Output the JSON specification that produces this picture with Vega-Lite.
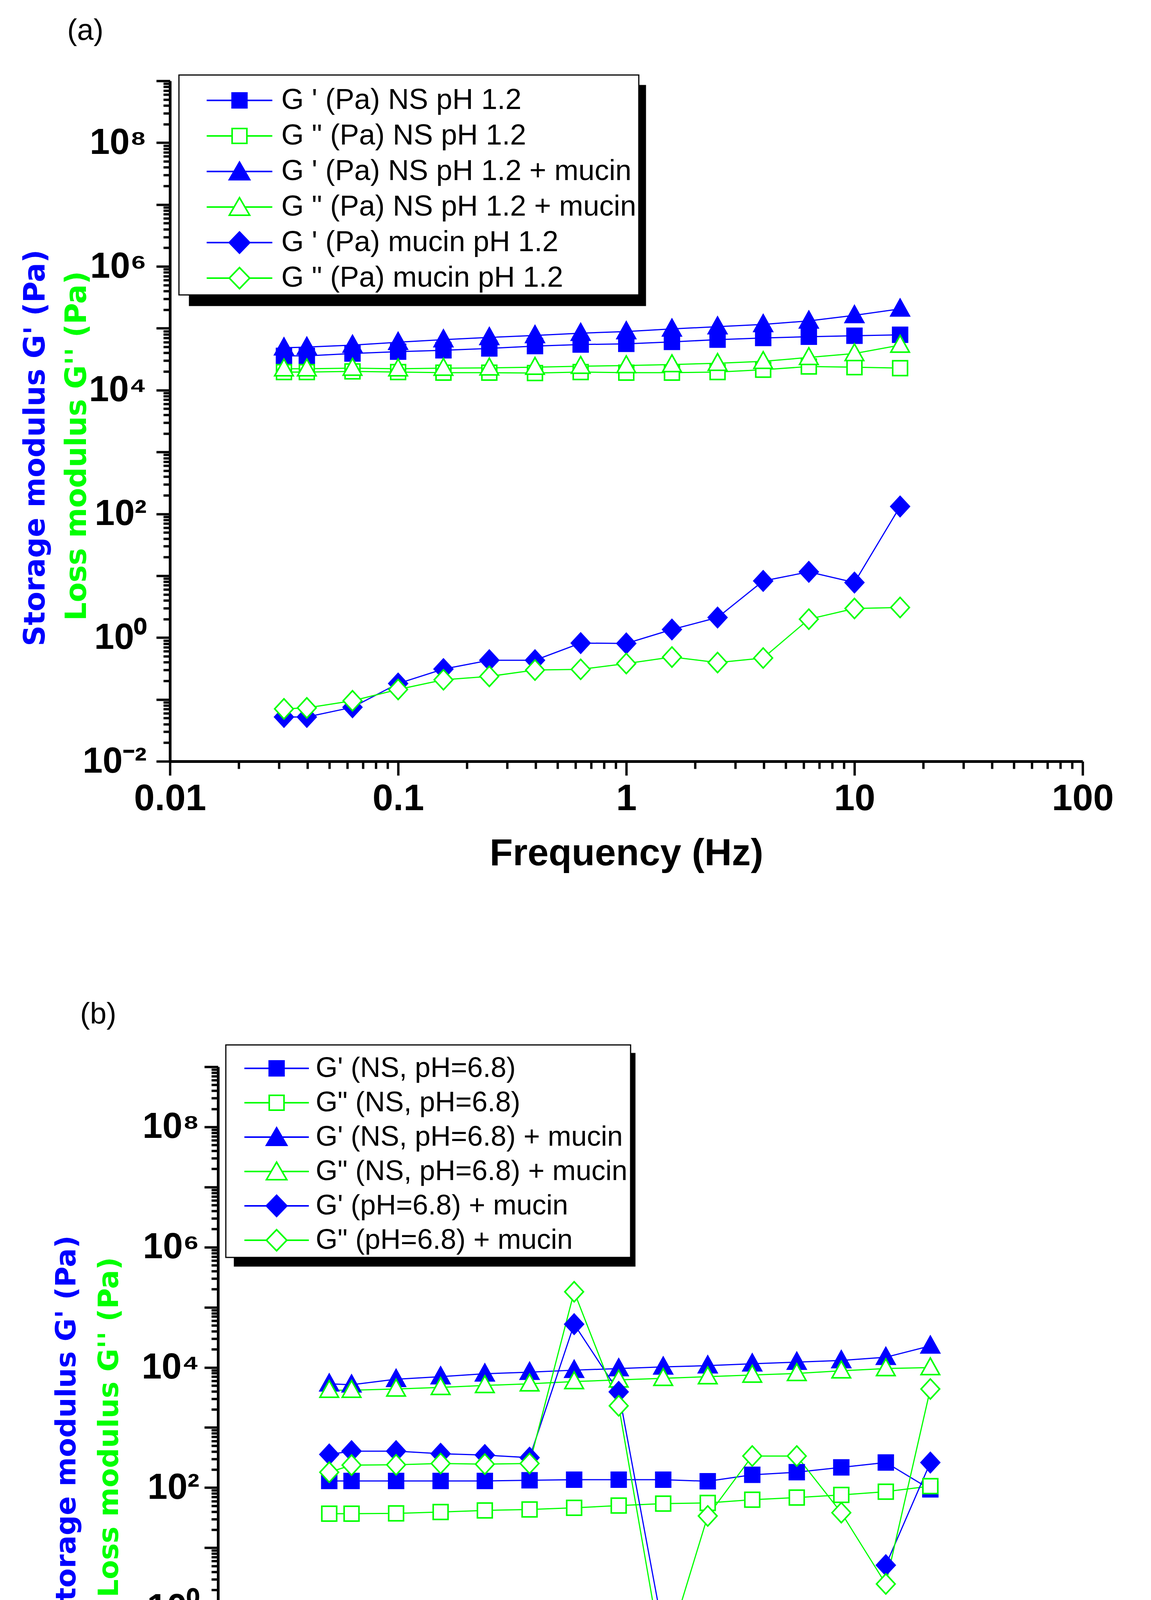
{
  "$schema": "https://vega.github.io/schema/vega-lite/v6.json",
  "padding": {"left": 54, "top": 41, "right": 5, "bottom": 5},
  "background": "white",
  "columns": 1,
  "spacing": 325,
  "datasets": {
    "a": [
      {"series": "G ' (Pa) NS pH 1.2", "freq": 0.0316, "value": 35890},
      {"series": "G ' (Pa) NS pH 1.2", "freq": 0.0398, "value": 35890},
      {"series": "G ' (Pa) NS pH 1.2", "freq": 0.0631, "value": 39080},
      {"series": "G ' (Pa) NS pH 1.2", "freq": 0.1, "value": 41980},
      {"series": "G ' (Pa) NS pH 1.2", "freq": 0.158, "value": 44060},
      {"series": "G ' (Pa) NS pH 1.2", "freq": 0.251, "value": 47320},
      {"series": "G ' (Pa) NS pH 1.2", "freq": 0.398, "value": 51520},
      {"series": "G ' (Pa) NS pH 1.2", "freq": 0.631, "value": 54700},
      {"series": "G ' (Pa) NS pH 1.2", "freq": 1, "value": 56100},
      {"series": "G ' (Pa) NS pH 1.2", "freq": 1.585, "value": 60260},
      {"series": "G ' (Pa) NS pH 1.2", "freq": 2.512, "value": 65610},
      {"series": "G ' (Pa) NS pH 1.2", "freq": 3.981, "value": 69660},
      {"series": "G ' (Pa) NS pH 1.2", "freq": 6.31, "value": 73110},
      {"series": "G ' (Pa) NS pH 1.2", "freq": 10, "value": 75860},
      {"series": "G ' (Pa) NS pH 1.2", "freq": 15.85, "value": 78520},
      {"series": "G \" (Pa) NS pH 1.2", "freq": 0.0316, "value": 19630},
      {"series": "G \" (Pa) NS pH 1.2", "freq": 0.0398, "value": 19630},
      {"series": "G \" (Pa) NS pH 1.2", "freq": 0.0631, "value": 20140},
      {"series": "G \" (Pa) NS pH 1.2", "freq": 0.1, "value": 19630},
      {"series": "G \" (Pa) NS pH 1.2", "freq": 0.158, "value": 19190},
      {"series": "G \" (Pa) NS pH 1.2", "freq": 0.251, "value": 19190},
      {"series": "G \" (Pa) NS pH 1.2", "freq": 0.398, "value": 18920},
      {"series": "G \" (Pa) NS pH 1.2", "freq": 0.631, "value": 19630},
      {"series": "G \" (Pa) NS pH 1.2", "freq": 1, "value": 19190},
      {"series": "G \" (Pa) NS pH 1.2", "freq": 1.585, "value": 19190},
      {"series": "G \" (Pa) NS pH 1.2", "freq": 2.512, "value": 19630},
      {"series": "G \" (Pa) NS pH 1.2", "freq": 3.981, "value": 21380},
      {"series": "G \" (Pa) NS pH 1.2", "freq": 6.31, "value": 24100},
      {"series": "G \" (Pa) NS pH 1.2", "freq": 10, "value": 23550},
      {"series": "G \" (Pa) NS pH 1.2", "freq": 15.85, "value": 22700},
      {"series": "G ' (Pa) NS pH 1.2 + mucin", "freq": 0.0316, "value": 48530},
      {"series": "G ' (Pa) NS pH 1.2 + mucin", "freq": 0.0398, "value": 49660},
      {"series": "G ' (Pa) NS pH 1.2 + mucin", "freq": 0.0631, "value": 53460},
      {"series": "G ' (Pa) NS pH 1.2 + mucin", "freq": 0.1, "value": 59570},
      {"series": "G ' (Pa) NS pH 1.2 + mucin", "freq": 0.158, "value": 65610},
      {"series": "G ' (Pa) NS pH 1.2 + mucin", "freq": 0.251, "value": 71290},
      {"series": "G ' (Pa) NS pH 1.2 + mucin", "freq": 0.398, "value": 76740},
      {"series": "G ' (Pa) NS pH 1.2 + mucin", "freq": 0.631, "value": 83370},
      {"series": "G ' (Pa) NS pH 1.2 + mucin", "freq": 1, "value": 88720},
      {"series": "G ' (Pa) NS pH 1.2 + mucin", "freq": 1.585, "value": 97720},
      {"series": "G ' (Pa) NS pH 1.2 + mucin", "freq": 2.512, "value": 106200},
      {"series": "G ' (Pa) NS pH 1.2 + mucin", "freq": 3.981, "value": 115600},
      {"series": "G ' (Pa) NS pH 1.2 + mucin", "freq": 6.31, "value": 131800},
      {"series": "G ' (Pa) NS pH 1.2 + mucin", "freq": 10, "value": 161800},
      {"series": "G ' (Pa) NS pH 1.2 + mucin", "freq": 15.85, "value": 206100},
      {"series": "G \" (Pa) NS pH 1.2 + mucin", "freq": 0.0316, "value": 22180},
      {"series": "G \" (Pa) NS pH 1.2 + mucin", "freq": 0.0398, "value": 22180},
      {"series": "G \" (Pa) NS pH 1.2 + mucin", "freq": 0.0631, "value": 22700},
      {"series": "G \" (Pa) NS pH 1.2 + mucin", "freq": 0.1, "value": 22180},
      {"series": "G \" (Pa) NS pH 1.2 + mucin", "freq": 0.158, "value": 22700},
      {"series": "G \" (Pa) NS pH 1.2 + mucin", "freq": 0.251, "value": 22960},
      {"series": "G \" (Pa) NS pH 1.2 + mucin", "freq": 0.398, "value": 23550},
      {"series": "G \" (Pa) NS pH 1.2 + mucin", "freq": 0.631, "value": 24380},
      {"series": "G \" (Pa) NS pH 1.2 + mucin", "freq": 1, "value": 25000},
      {"series": "G \" (Pa) NS pH 1.2 + mucin", "freq": 1.585, "value": 25940},
      {"series": "G \" (Pa) NS pH 1.2 + mucin", "freq": 2.512, "value": 27230},
      {"series": "G \" (Pa) NS pH 1.2 + mucin", "freq": 3.981, "value": 29240},
      {"series": "G \" (Pa) NS pH 1.2 + mucin", "freq": 6.31, "value": 33810},
      {"series": "G \" (Pa) NS pH 1.2 + mucin", "freq": 10, "value": 39080},
      {"series": "G \" (Pa) NS pH 1.2 + mucin", "freq": 15.85, "value": 53460},
      {"series": "G ' (Pa) mucin pH 1.2", "freq": 0.0316, "value": 0.0521},
      {"series": "G ' (Pa) mucin pH 1.2", "freq": 0.0398, "value": 0.0521},
      {"series": "G ' (Pa) mucin pH 1.2", "freq": 0.0631, "value": 0.0748},
      {"series": "G ' (Pa) mucin pH 1.2", "freq": 0.1, "value": 0.181},
      {"series": "G ' (Pa) mucin pH 1.2", "freq": 0.158, "value": 0.31},
      {"series": "G ' (Pa) mucin pH 1.2", "freq": 0.251, "value": 0.431},
      {"series": "G ' (Pa) mucin pH 1.2", "freq": 0.398, "value": 0.431},
      {"series": "G ' (Pa) mucin pH 1.2", "freq": 0.631, "value": 0.815},
      {"series": "G ' (Pa) mucin pH 1.2", "freq": 1, "value": 0.805},
      {"series": "G ' (Pa) mucin pH 1.2", "freq": 1.585, "value": 1.352},
      {"series": "G ' (Pa) mucin pH 1.2", "freq": 2.512, "value": 2.113},
      {"series": "G ' (Pa) mucin pH 1.2", "freq": 3.981, "value": 8.241},
      {"series": "G ' (Pa) mucin pH 1.2", "freq": 6.31, "value": 11.56},
      {"series": "G ' (Pa) mucin pH 1.2", "freq": 10, "value": 7.762},
      {"series": "G ' (Pa) mucin pH 1.2", "freq": 15.85, "value": 131.8},
      {"series": "G \" (Pa) mucin pH 1.2", "freq": 0.0316, "value": 0.0705},
      {"series": "G \" (Pa) mucin pH 1.2", "freq": 0.0398, "value": 0.0731},
      {"series": "G \" (Pa) mucin pH 1.2", "freq": 0.0631, "value": 0.0953},
      {"series": "G \" (Pa) mucin pH 1.2", "freq": 0.1, "value": 0.145},
      {"series": "G \" (Pa) mucin pH 1.2", "freq": 0.158, "value": 0.208},
      {"series": "G \" (Pa) mucin pH 1.2", "freq": 0.251, "value": 0.236},
      {"series": "G \" (Pa) mucin pH 1.2", "freq": 0.398, "value": 0.299},
      {"series": "G \" (Pa) mucin pH 1.2", "freq": 0.631, "value": 0.307},
      {"series": "G \" (Pa) mucin pH 1.2", "freq": 1, "value": 0.381},
      {"series": "G \" (Pa) mucin pH 1.2", "freq": 1.585, "value": 0.485},
      {"series": "G \" (Pa) mucin pH 1.2", "freq": 2.512, "value": 0.395},
      {"series": "G \" (Pa) mucin pH 1.2", "freq": 3.981, "value": 0.468},
      {"series": "G \" (Pa) mucin pH 1.2", "freq": 6.31, "value": 1.986},
      {"series": "G \" (Pa) mucin pH 1.2", "freq": 10, "value": 2.958},
      {"series": "G \" (Pa) mucin pH 1.2", "freq": 15.85, "value": 3.069}
    ],
    "b": [
      {"series": "G' (NS, pH=6.8)", "freq": 0.0316, "value": 129.1},
      {"series": "G' (NS, pH=6.8)", "freq": 0.0398, "value": 129.1},
      {"series": "G' (NS, pH=6.8)", "freq": 0.0631, "value": 129.1},
      {"series": "G' (NS, pH=6.8)", "freq": 0.1, "value": 129.1},
      {"series": "G' (NS, pH=6.8)", "freq": 0.158, "value": 129.1},
      {"series": "G' (NS, pH=6.8)", "freq": 0.251, "value": 132.4},
      {"series": "G' (NS, pH=6.8)", "freq": 0.398, "value": 135.8},
      {"series": "G' (NS, pH=6.8)", "freq": 0.631, "value": 135.8},
      {"series": "G' (NS, pH=6.8)", "freq": 1, "value": 135.8},
      {"series": "G' (NS, pH=6.8)", "freq": 1.585, "value": 127.6},
      {"series": "G' (NS, pH=6.8)", "freq": 2.512, "value": 163.3},
      {"series": "G' (NS, pH=6.8)", "freq": 3.981, "value": 180.7},
      {"series": "G' (NS, pH=6.8)", "freq": 6.31, "value": 217.3},
      {"series": "G' (NS, pH=6.8)", "freq": 10, "value": 261.8},
      {"series": "G' (NS, pH=6.8)", "freq": 15.85, "value": 93.5},
      {"series": "G\" (NS, pH=6.8)", "freq": 0.0316, "value": 36.9},
      {"series": "G\" (NS, pH=6.8)", "freq": 0.0398, "value": 36.9},
      {"series": "G\" (NS, pH=6.8)", "freq": 0.0631, "value": 37.3},
      {"series": "G\" (NS, pH=6.8)", "freq": 0.1, "value": 39.3},
      {"series": "G\" (NS, pH=6.8)", "freq": 0.158, "value": 41.8},
      {"series": "G\" (NS, pH=6.8)", "freq": 0.251, "value": 43.4},
      {"series": "G\" (NS, pH=6.8)", "freq": 0.398, "value": 46.1},
      {"series": "G\" (NS, pH=6.8)", "freq": 0.631, "value": 50.4},
      {"series": "G\" (NS, pH=6.8)", "freq": 1, "value": 54.2},
      {"series": "G\" (NS, pH=6.8)", "freq": 1.585, "value": 55.6},
      {"series": "G\" (NS, pH=6.8)", "freq": 2.512, "value": 63},
      {"series": "G\" (NS, pH=6.8)", "freq": 3.981, "value": 68.5},
      {"series": "G\" (NS, pH=6.8)", "freq": 6.31, "value": 75.7},
      {"series": "G\" (NS, pH=6.8)", "freq": 10, "value": 85.7},
      {"series": "G\" (NS, pH=6.8)", "freq": 15.85, "value": 105.9},
      {"series": "G' (NS, pH=6.8) + mucin", "freq": 0.0316, "value": 5333},
      {"series": "G' (NS, pH=6.8) + mucin", "freq": 0.0398, "value": 5140},
      {"series": "G' (NS, pH=6.8) + mucin", "freq": 0.0631, "value": 6353},
      {"series": "G' (NS, pH=6.8) + mucin", "freq": 0.1, "value": 7015},
      {"series": "G' (NS, pH=6.8) + mucin", "freq": 0.158, "value": 7834},
      {"series": "G' (NS, pH=6.8) + mucin", "freq": 0.251, "value": 8337},
      {"series": "G' (NS, pH=6.8) + mucin", "freq": 0.398, "value": 8995},
      {"series": "G' (NS, pH=6.8) + mucin", "freq": 0.631, "value": 9572},
      {"series": "G' (NS, pH=6.8) + mucin", "freq": 1, "value": 10190},
      {"series": "G' (NS, pH=6.8) + mucin", "freq": 1.585, "value": 10690},
      {"series": "G' (NS, pH=6.8) + mucin", "freq": 2.512, "value": 11510},
      {"series": "G' (NS, pH=6.8) + mucin", "freq": 3.981, "value": 12250},
      {"series": "G' (NS, pH=6.8) + mucin", "freq": 6.31, "value": 13030},
      {"series": "G' (NS, pH=6.8) + mucin", "freq": 10, "value": 14760},
      {"series": "G' (NS, pH=6.8) + mucin", "freq": 15.85, "value": 22800},
      {"series": "G\" (NS, pH=6.8) + mucin", "freq": 0.0316, "value": 4169},
      {"series": "G\" (NS, pH=6.8) + mucin", "freq": 0.0398, "value": 4169},
      {"series": "G\" (NS, pH=6.8) + mucin", "freq": 0.0631, "value": 4375},
      {"series": "G\" (NS, pH=6.8) + mucin", "freq": 0.1, "value": 4656},
      {"series": "G\" (NS, pH=6.8) + mucin", "freq": 0.158, "value": 5012},
      {"series": "G\" (NS, pH=6.8) + mucin", "freq": 0.251, "value": 5333},
      {"series": "G\" (NS, pH=6.8) + mucin", "freq": 0.398, "value": 5821},
      {"series": "G\" (NS, pH=6.8) + mucin", "freq": 0.631, "value": 6194},
      {"series": "G\" (NS, pH=6.8) + mucin", "freq": 1, "value": 6592},
      {"series": "G\" (NS, pH=6.8) + mucin", "freq": 1.585, "value": 7015},
      {"series": "G\" (NS, pH=6.8) + mucin", "freq": 2.512, "value": 7464},
      {"series": "G\" (NS, pH=6.8) + mucin", "freq": 3.981, "value": 7943},
      {"series": "G\" (NS, pH=6.8) + mucin", "freq": 6.31, "value": 8770},
      {"series": "G\" (NS, pH=6.8) + mucin", "freq": 10, "value": 9572},
      {"series": "G\" (NS, pH=6.8) + mucin", "freq": 15.85, "value": 9931},
      {"series": "G' (pH=6.8) + mucin", "freq": 0.0316, "value": 357.3},
      {"series": "G' (pH=6.8) + mucin", "freq": 0.0398, "value": 404.6},
      {"series": "G' (pH=6.8) + mucin", "freq": 0.0631, "value": 404.6},
      {"series": "G' (pH=6.8) + mucin", "freq": 0.1, "value": 366.4},
      {"series": "G' (pH=6.8) + mucin", "freq": 0.158, "value": 348.3},
      {"series": "G' (pH=6.8) + mucin", "freq": 0.251, "value": 315.5},
      {"series": "G' (pH=6.8) + mucin", "freq": 0.398, "value": 52360},
      {"series": "G' (pH=6.8) + mucin", "freq": 0.631, "value": 3917},
      {"series": "G' (pH=6.8) + mucin", "freq": 1, "value": 0.413},
      {"series": "G' (pH=6.8) + mucin", "freq": 1.585, "value": null},
      {"series": "G' (pH=6.8) + mucin", "freq": 2.512, "value": null},
      {"series": "G' (pH=6.8) + mucin", "freq": 3.981, "value": null},
      {"series": "G' (pH=6.8) + mucin", "freq": 6.31, "value": null},
      {"series": "G' (pH=6.8) + mucin", "freq": 10, "value": 5.129},
      {"series": "G' (pH=6.8) + mucin", "freq": 15.85, "value": 261.8},
      {"series": "G\" (pH=6.8) + mucin", "freq": 0.0316, "value": 180.3},
      {"series": "G\" (pH=6.8) + mucin", "freq": 0.0398, "value": 237.1},
      {"series": "G\" (pH=6.8) + mucin", "freq": 0.0631, "value": 239.9},
      {"series": "G\" (pH=6.8) + mucin", "freq": 0.1, "value": 252.3},
      {"series": "G\" (pH=6.8) + mucin", "freq": 0.158, "value": 246},
      {"series": "G\" (pH=6.8) + mucin", "freq": 0.251, "value": 252.3},
      {"series": "G\" (pH=6.8) + mucin", "freq": 0.398, "value": 181100},
      {"series": "G\" (pH=6.8) + mucin", "freq": 0.631, "value": 2296},
      {"series": "G\" (pH=6.8) + mucin", "freq": 1, "value": 0.127},
      {"series": "G\" (pH=6.8) + mucin", "freq": 1.585, "value": 33.8},
      {"series": "G\" (pH=6.8) + mucin", "freq": 2.512, "value": 335.7},
      {"series": "G\" (pH=6.8) + mucin", "freq": 3.981, "value": 335.7},
      {"series": "G\" (pH=6.8) + mucin", "freq": 6.31, "value": 38.3},
      {"series": "G\" (pH=6.8) + mucin", "freq": 10, "value": 2.5},
      {"series": "G\" (pH=6.8) + mucin", "freq": 15.85, "value": 4375}
    ]
  },
  "concat": [
    {
      "data": {"name": "a"},
      "width": 2336,
      "height": 1742,
      "title": {"text": "(a)", "anchor": "start", "frame": "group", "dx": -263, "offset": 43, "fontSize": 76, "font": "Liberation Sans", "fontWeight": "normal", "color": "black"},
      "layer": [
        {
          "mark": {"type": "line", "strokeWidth": 3, "invalid": "break-paths-filter-domains"},
          "encoding": {
            "x": {
              "field": "freq", "type": "quantitative",
              "scale": {"type": "log", "domain": [0.01, 100], "nice": false},
              "axis": {
                "values": [0.01, 0.02, 0.03, 0.04, 0.05, 0.06, 0.07, 0.08, 0.09, 0.1, 0.2, 0.3, 0.4, 0.5, 0.6, 0.7, 0.8, 0.9, 1, 2, 3, 4, 5, 6, 7, 8, 9, 10, 20, 30, 40, 50, 60, 70, 80, 90, 100],
                "labelExpr": "abs(log(datum.value)/LN10 - round(log(datum.value)/LN10)) < 0.01 ? format(datum.value, '~g') : ''",
                "tickSize": {"condition": {"test": "abs(log(datum.value)/LN10 - round(log(datum.value)/LN10)) < 0.01", "value": 36}, "value": 19},
                "labelFontSize": 95,
                "labelPadding": 13,
                "title": "Frequency (Hz)",
                "titleFontSize": 97,
                "titlePadding": 45
              }
            },
            "y": {
              "field": "value", "type": "quantitative",
              "scale": {"type": "log", "domain": [0.01, 1000000000], "nice": false},
              "axis": {
                "values": [0.01, 0.02, 0.03, 0.04, 0.05, 0.06, 0.07, 0.08, 0.09, 0.1, 0.2, 0.3, 0.4, 0.5, 0.6, 0.7, 0.8, 0.9, 1, 2, 3, 4, 5, 6, 7, 8, 9, 10, 20, 30, 40, 50, 60, 70, 80, 90, 100, 200, 300, 400, 500, 600, 700, 800, 900, 1000, 2000, 3000, 4000, 5000, 6000, 7000, 8000, 9000, 1e4, 2e4, 3e4, 4e4, 5e4, 6e4, 7e4, 8e4, 9e4, 1e5, 2e5, 3e5, 4e5, 5e5, 6e5, 7e5, 8e5, 9e5, 1e6, 2e6, 3e6, 4e6, 5e6, 6e6, 7e6, 8e6, 9e6, 1e7, 2e7, 3e7, 4e7, 5e7, 6e7, 7e7, 8e7, 9e7, 1e8, 2e8, 3e8, 4e8, 5e8, 6e8, 7e8, 8e8, 9e8, 1e9],
                "labelExpr": "abs(log(datum.value)/LN10 - round(log(datum.value)/LN10)) < 0.01 && round(log(datum.value)/LN10) % 2 == 0 ? '10' + (round(log(datum.value)/LN10) < -1 ? '⁻²' : round(log(datum.value)/LN10) < 1 ? '⁰' : round(log(datum.value)/LN10) < 3 ? '²' : round(log(datum.value)/LN10) < 5 ? '⁴' : round(log(datum.value)/LN10) < 7 ? '⁶' : '⁸') : ''",
                "tickSize": {"condition": {"test": "abs(log(datum.value)/LN10 - round(log(datum.value)/LN10)) < 0.01", "value": 35}, "value": 17},
                "labelFontSize": 92,
                "labelPadding": 25,
                "title": "Storage modulus G' (Pa)",
                "titleColor": "#0000FF",
                "titleFont": "DejaVu Sans",
                "titleFontSize": 74,
                "titlePadding": 82,
                "titleY": 939
              }
            },
            "stroke": {"field": "series", "type": "nominal", "legend": null,
              "scale": {"domain": ["G ' (Pa) NS pH 1.2", "G \" (Pa) NS pH 1.2", "G ' (Pa) NS pH 1.2 + mucin", "G \" (Pa) NS pH 1.2 + mucin", "G ' (Pa) mucin pH 1.2", "G \" (Pa) mucin pH 1.2"], "range": ["#0000FF", "#00FF00", "#0000FF", "#00FF00", "#0000FF", "#00FF00"]}}
          }
        },
        {
          "mark": {"type": "point", "size": 1444, "strokeWidth": 4, "opacity": 1},
          "encoding": {
            "x": {"field": "freq", "type": "quantitative", "scale": {"type": "log", "domain": [0.01, 100], "nice": false}},
            "y": {"field": "value", "type": "quantitative", "scale": {"type": "log", "domain": [0.01, 1000000000], "nice": false}, "axis": null},
            "stroke": {"field": "series", "type": "nominal", "legend": null,
              "scale": {"domain": ["G ' (Pa) NS pH 1.2", "G \" (Pa) NS pH 1.2", "G ' (Pa) NS pH 1.2 + mucin", "G \" (Pa) NS pH 1.2 + mucin", "G ' (Pa) mucin pH 1.2", "G \" (Pa) mucin pH 1.2"], "range": ["#0000FF", "#00FF00", "#0000FF", "#00FF00", "#0000FF", "#00FF00"]}},
            "fill": {"field": "series", "type": "nominal", "legend": null,
              "scale": {"domain": ["G ' (Pa) NS pH 1.2", "G \" (Pa) NS pH 1.2", "G ' (Pa) NS pH 1.2 + mucin", "G \" (Pa) NS pH 1.2 + mucin", "G ' (Pa) mucin pH 1.2", "G \" (Pa) mucin pH 1.2"], "range": ["#0000FF", "#FFFFFF", "#0000FF", "#FFFFFF", "#0000FF", "#FFFFFF"]}},
            "shape": {"field": "series", "type": "nominal", "legend": null,
              "scale": {"domain": ["G ' (Pa) NS pH 1.2", "G \" (Pa) NS pH 1.2", "G ' (Pa) NS pH 1.2 + mucin", "G \" (Pa) NS pH 1.2 + mucin", "G ' (Pa) mucin pH 1.2", "G \" (Pa) mucin pH 1.2"], "range": ["M-1,-1H1V1H-1Z", "M-1,-1H1V1H-1Z", "M0,-1.3L1.25,0.95H-1.25Z", "M0,-1.3L1.25,0.95H-1.25Z", "M-1.25,0L0,-1.35L1.25,0L0,1.35Z", "M-1.25,0L0,-1.35L1.25,0L0,1.35Z"]}}
          }
        },
        {
          "transform": [{"filter": "false"}],
          "mark": {"type": "point", "size": 3600, "strokeWidth": 4, "opacity": 1},
          "encoding": {
            "x": {"field": "freq", "type": "quantitative", "scale": {"type": "log", "domain": [0.01, 100], "nice": false}},
            "y": {
              "field": "value", "type": "quantitative",
              "scale": {"type": "log", "domain": [0.01, 1000000000], "nice": false},
              "axis": {"orient": "left", "labels": false, "ticks": false, "domain": false, "title": "Loss modulus G'' (Pa)", "titleColor": "#00FF00", "titleFont": "DejaVu Sans", "titleFontSize": 74, "titlePadding": 200, "titleY": 934}
            },
            "stroke": {"field": "series", "type": "nominal",
              "scale": {"domain": ["G ' (Pa) NS pH 1.2", "G \" (Pa) NS pH 1.2", "G ' (Pa) NS pH 1.2 + mucin", "G \" (Pa) NS pH 1.2 + mucin", "G ' (Pa) mucin pH 1.2", "G \" (Pa) mucin pH 1.2"], "range": ["#0000FF", "#00FF00", "#0000FF", "#00FF00", "#0000FF", "#00FF00"]},
              "legend": {"orient": "none", "legendX": 23, "legendY": -15, "title": " ", "titleFontSize": 2, "titlePadding": 20, "padding": 6, "rowPadding": 17, "symbolSize": 3600, "symbolStrokeWidth": 4, "symbolOffset": 112, "labelOffset": 70, "labelFontSize": 74, "labelLimit": 3000, "fillColor": "white", "zindex": 1}},
            "fill": {"field": "series", "type": "nominal",
              "scale": {"domain": ["G ' (Pa) NS pH 1.2", "G \" (Pa) NS pH 1.2", "G ' (Pa) NS pH 1.2 + mucin", "G \" (Pa) NS pH 1.2 + mucin", "G ' (Pa) mucin pH 1.2", "G \" (Pa) mucin pH 1.2"], "range": ["#0000FF", "#FFFFFF", "#0000FF", "#FFFFFF", "#0000FF", "#FFFFFF"]},
              "legend": {"orient": "none", "legendX": 23, "legendY": -15, "title": " ", "titleFontSize": 2, "titlePadding": 20, "padding": 6, "rowPadding": 17, "symbolSize": 3600, "symbolStrokeWidth": 4, "symbolOffset": 112, "labelOffset": 70, "labelFontSize": 74, "labelLimit": 3000, "fillColor": "white", "zindex": 1}},
            "shape": {"field": "series", "type": "nominal",
              "scale": {"domain": ["G ' (Pa) NS pH 1.2", "G \" (Pa) NS pH 1.2", "G ' (Pa) NS pH 1.2 + mucin", "G \" (Pa) NS pH 1.2 + mucin", "G ' (Pa) mucin pH 1.2", "G \" (Pa) mucin pH 1.2"], "range": ["M-2.8,0H-0.63M0.63,0H2.8M-0.63,-0.63H0.63V0.63H-0.63Z", "M-2.8,0H-0.63M0.63,0H2.8M-0.63,-0.63H0.63V0.63H-0.63Z", "M-2.8,0H-0.46M0.46,0H2.8M0,-0.8L0.87,0.7H-0.87Z", "M-2.8,0H-0.46M0.46,0H2.8M0,-0.8L0.87,0.7H-0.87Z", "M-2.8,0H-0.87M0.87,0H2.8M-0.87,0L0,-0.9L0.87,0L0,0.9Z", "M-2.8,0H-0.87M0.87,0H2.8M-0.87,0L0,-0.9L0.87,0L0,0.9Z"]},
              "legend": {"orient": "none", "legendX": 23, "legendY": -15, "title": " ", "titleFontSize": 2, "titlePadding": 20, "padding": 6, "rowPadding": 17, "symbolSize": 3600, "symbolStrokeWidth": 4, "symbolOffset": 112, "labelOffset": 70, "labelFontSize": 74, "labelLimit": 3000, "fillColor": "white", "zindex": 1}}
          }
        },
        {
          "transform": [{"filter": "false"}],
          "mark": {"type": "point", "size": 3600, "strokeWidth": 4, "opacity": 1},
          "encoding": {
            "x": {"field": "freq", "type": "quantitative", "scale": {"type": "log", "domain": [0.01, 100], "nice": false}},
            "y": {"field": "value", "type": "quantitative", "scale": {"type": "log", "domain": [0.01, 1000000000], "nice": false}, "axis": null},
            "stroke": {"field": "series", "type": "nominal",
              "scale": {"domain": ["G ' (Pa) NS pH 1.2", "G \" (Pa) NS pH 1.2", "G ' (Pa) NS pH 1.2 + mucin", "G \" (Pa) NS pH 1.2 + mucin", "G ' (Pa) mucin pH 1.2", "G \" (Pa) mucin pH 1.2"], "range": ["black", "black", "black", "black", "black", "black"]},
              "legend": {"orient": "none", "legendX": 50, "legendY": 12, "title": " ", "titleFontSize": 2, "titlePadding": 20, "padding": 6, "rowPadding": 17, "symbolSize": 3600, "symbolStrokeWidth": 4, "symbolOffset": 112, "labelOffset": 969, "labelExpr": "' '", "labelFontSize": 74, "labelLimit": 3000, "fillColor": "black", "zindex": 0}},
            "fill": {"field": "series", "type": "nominal",
              "scale": {"domain": ["G ' (Pa) NS pH 1.2", "G \" (Pa) NS pH 1.2", "G ' (Pa) NS pH 1.2 + mucin", "G \" (Pa) NS pH 1.2 + mucin", "G ' (Pa) mucin pH 1.2", "G \" (Pa) mucin pH 1.2"], "range": ["black", "black", "black", "black", "black", "black"]},
              "legend": {"orient": "none", "legendX": 50, "legendY": 12, "title": " ", "titleFontSize": 2, "titlePadding": 20, "padding": 6, "rowPadding": 17, "symbolSize": 3600, "symbolStrokeWidth": 4, "symbolOffset": 112, "labelOffset": 969, "labelExpr": "' '", "labelFontSize": 74, "labelLimit": 3000, "fillColor": "black", "zindex": 0}},
            "shape": {"field": "series", "type": "nominal",
              "scale": {"domain": ["G ' (Pa) NS pH 1.2", "G \" (Pa) NS pH 1.2", "G ' (Pa) NS pH 1.2 + mucin", "G \" (Pa) NS pH 1.2 + mucin", "G ' (Pa) mucin pH 1.2", "G \" (Pa) mucin pH 1.2"], "range": ["M-2.8,0H-0.63M0.63,0H2.8M-0.63,-0.63H0.63V0.63H-0.63Z", "M-2.8,0H-0.63M0.63,0H2.8M-0.63,-0.63H0.63V0.63H-0.63Z", "M-2.8,0H-0.46M0.46,0H2.8M0,-0.8L0.87,0.7H-0.87Z", "M-2.8,0H-0.46M0.46,0H2.8M0,-0.8L0.87,0.7H-0.87Z", "M-2.8,0H-0.87M0.87,0H2.8M-0.87,0L0,-0.9L0.87,0L0,0.9Z", "M-2.8,0H-0.87M0.87,0H2.8M-0.87,0L0,-0.9L0.87,0L0,0.9Z"]},
              "legend": {"orient": "none", "legendX": 50, "legendY": 12, "title": " ", "titleFontSize": 2, "titlePadding": 20, "padding": 6, "rowPadding": 17, "symbolSize": 3600, "symbolStrokeWidth": 4, "symbolOffset": 112, "labelOffset": 969, "labelExpr": "' '", "labelFontSize": 74, "labelLimit": 3000, "fillColor": "black", "zindex": 0}}
          }
        }
      ],
      "resolve": {"scale": {"y": "independent", "stroke": "independent", "fill": "independent", "shape": "independent"}}
    },
    {
      "data": {"name": "b"},
      "width": 2402,
      "height": 1693,
      "title": {"text": "(b)", "anchor": "start", "frame": "group", "dx": -230, "offset": 38, "fontSize": 76, "font": "Liberation Sans", "fontWeight": "normal", "color": "black"},
      "layer": [
        {
          "mark": {"type": "line", "strokeWidth": 3, "invalid": "break-paths-filter-domains"},
          "encoding": {
            "x": {
              "field": "freq", "type": "quantitative",
              "scale": {"type": "log", "domain": [0.01, 100], "nice": false, "range": [123, 2402]},
              "axis": {
                "values": [0.01, 0.02, 0.03, 0.04, 0.05, 0.06, 0.07, 0.08, 0.09, 0.1, 0.2, 0.3, 0.4, 0.5, 0.6, 0.7, 0.8, 0.9, 1, 2, 3, 4, 5, 6, 7, 8, 9, 10, 20, 30, 40, 50, 60, 70, 80, 90, 100],
                "labelExpr": "abs(log(datum.value)/LN10 - round(log(datum.value)/LN10)) < 0.01 ? format(datum.value, '~g') : ''",
                "tickSize": {"condition": {"test": "abs(log(datum.value)/LN10 - round(log(datum.value)/LN10)) < 0.01", "value": 36}, "value": 19},
                "labelFontSize": 88,
                "labelPadding": 12,
                "title": "Frequency (Hz)",
                "titleFontSize": 90,
                "titlePadding": 12
              }
            },
            "y": {
              "field": "value", "type": "quantitative",
              "scale": {"type": "log", "domain": [0.01, 1000000000], "nice": false},
              "axis": {
                "offset": -123,
                "values": [0.01, 0.02, 0.03, 0.04, 0.05, 0.06, 0.07, 0.08, 0.09, 0.1, 0.2, 0.3, 0.4, 0.5, 0.6, 0.7, 0.8, 0.9, 1, 2, 3, 4, 5, 6, 7, 8, 9, 10, 20, 30, 40, 50, 60, 70, 80, 90, 100, 200, 300, 400, 500, 600, 700, 800, 900, 1000, 2000, 3000, 4000, 5000, 6000, 7000, 8000, 9000, 1e4, 2e4, 3e4, 4e4, 5e4, 6e4, 7e4, 8e4, 9e4, 1e5, 2e5, 3e5, 4e5, 5e5, 6e5, 7e5, 8e5, 9e5, 1e6, 2e6, 3e6, 4e6, 5e6, 6e6, 7e6, 8e6, 9e6, 1e7, 2e7, 3e7, 4e7, 5e7, 6e7, 7e7, 8e7, 9e7, 1e8, 2e8, 3e8, 4e8, 5e8, 6e8, 7e8, 8e8, 9e8, 1e9],
                "labelExpr": "abs(log(datum.value)/LN10 - round(log(datum.value)/LN10)) < 0.01 && round(log(datum.value)/LN10) % 2 == 0 ? '10' + (round(log(datum.value)/LN10) < -1 ? '⁻²' : round(log(datum.value)/LN10) < 1 ? '⁰' : round(log(datum.value)/LN10) < 3 ? '²' : round(log(datum.value)/LN10) < 5 ? '⁴' : round(log(datum.value)/LN10) < 7 ? '⁶' : '⁸') : ''",
                "tickSize": {"condition": {"test": "abs(log(datum.value)/LN10 - round(log(datum.value)/LN10)) < 0.01", "value": 35}, "value": 17},
                "labelFontSize": 92,
                "labelPadding": 13,
                "title": "Storage modulus G' (Pa)",
                "titleColor": "#0000FF",
                "titleFont": "DejaVu Sans",
                "titleFontSize": 72,
                "titlePadding": 139,
                "titleY": 925
              }
            },
            "stroke": {"field": "series", "type": "nominal", "legend": null,
              "scale": {"domain": ["G' (NS, pH=6.8)", "G\" (NS, pH=6.8)", "G' (NS, pH=6.8) + mucin", "G\" (NS, pH=6.8) + mucin", "G' (pH=6.8) + mucin", "G\" (pH=6.8) + mucin"], "range": ["#0000FF", "#00FF00", "#0000FF", "#00FF00", "#0000FF", "#00FF00"]}}
          }
        },
        {
          "mark": {"type": "point", "size": 1444, "strokeWidth": 4, "opacity": 1},
          "encoding": {
            "x": {"field": "freq", "type": "quantitative", "scale": {"type": "log", "domain": [0.01, 100], "nice": false, "range": [123, 2402]}},
            "y": {"field": "value", "type": "quantitative", "scale": {"type": "log", "domain": [0.01, 1000000000], "nice": false}, "axis": null},
            "stroke": {"field": "series", "type": "nominal", "legend": null,
              "scale": {"domain": ["G' (NS, pH=6.8)", "G\" (NS, pH=6.8)", "G' (NS, pH=6.8) + mucin", "G\" (NS, pH=6.8) + mucin", "G' (pH=6.8) + mucin", "G\" (pH=6.8) + mucin"], "range": ["#0000FF", "#00FF00", "#0000FF", "#00FF00", "#0000FF", "#00FF00"]}},
            "fill": {"field": "series", "type": "nominal", "legend": null,
              "scale": {"domain": ["G' (NS, pH=6.8)", "G\" (NS, pH=6.8)", "G' (NS, pH=6.8) + mucin", "G\" (NS, pH=6.8) + mucin", "G' (pH=6.8) + mucin", "G\" (pH=6.8) + mucin"], "range": ["#0000FF", "#FFFFFF", "#0000FF", "#FFFFFF", "#0000FF", "#FFFFFF"]}},
            "shape": {"field": "series", "type": "nominal", "legend": null,
              "scale": {"domain": ["G' (NS, pH=6.8)", "G\" (NS, pH=6.8)", "G' (NS, pH=6.8) + mucin", "G\" (NS, pH=6.8) + mucin", "G' (pH=6.8) + mucin", "G\" (pH=6.8) + mucin"], "range": ["M-1,-1H1V1H-1Z", "M-1,-1H1V1H-1Z", "M0,-1.3L1.25,0.95H-1.25Z", "M0,-1.3L1.25,0.95H-1.25Z", "M-1.25,0L0,-1.35L1.25,0L0,1.35Z", "M-1.25,0L0,-1.35L1.25,0L0,1.35Z"]}}
          }
        },
        {
          "transform": [{"filter": "false"}],
          "mark": {"type": "point", "size": 3600, "strokeWidth": 4, "opacity": 1},
          "encoding": {
            "x": {"field": "freq", "type": "quantitative", "scale": {"type": "log", "domain": [0.01, 100], "nice": false, "range": [123, 2402]}},
            "y": {
              "field": "value", "type": "quantitative",
              "scale": {"type": "log", "domain": [0.01, 1000000000], "nice": false},
              "axis": {"offset": -123, "orient": "left", "labels": false, "ticks": false, "domain": false, "title": "Loss modulus G'' (Pa)", "titleColor": "#00FF00", "titleFont": "DejaVu Sans", "titleFontSize": 72, "titlePadding": 242, "titleY": 922}
            },
            "stroke": {"field": "series", "type": "nominal",
              "scale": {"domain": ["G' (NS, pH=6.8)", "G\" (NS, pH=6.8)", "G' (NS, pH=6.8) + mucin", "G\" (NS, pH=6.8) + mucin", "G' (pH=6.8) + mucin", "G\" (pH=6.8) + mucin"], "range": ["#0000FF", "#00FF00", "#0000FF", "#00FF00", "#0000FF", "#00FF00"]},
              "legend": {"orient": "none", "legendX": 143, "legendY": -56, "title": " ", "titleFontSize": 2, "titlePadding": 14, "padding": 8, "rowPadding": 16, "symbolSize": 3600, "symbolStrokeWidth": 4, "symbolOffset": 86, "labelOffset": 64, "labelFontSize": 72, "labelLimit": 3000, "fillColor": "white", "zindex": 1}},
            "fill": {"field": "series", "type": "nominal",
              "scale": {"domain": ["G' (NS, pH=6.8)", "G\" (NS, pH=6.8)", "G' (NS, pH=6.8) + mucin", "G\" (NS, pH=6.8) + mucin", "G' (pH=6.8) + mucin", "G\" (pH=6.8) + mucin"], "range": ["#0000FF", "#FFFFFF", "#0000FF", "#FFFFFF", "#0000FF", "#FFFFFF"]},
              "legend": {"orient": "none", "legendX": 143, "legendY": -56, "title": " ", "titleFontSize": 2, "titlePadding": 14, "padding": 8, "rowPadding": 16, "symbolSize": 3600, "symbolStrokeWidth": 4, "symbolOffset": 86, "labelOffset": 64, "labelFontSize": 72, "labelLimit": 3000, "fillColor": "white", "zindex": 1}},
            "shape": {"field": "series", "type": "nominal",
              "scale": {"domain": ["G' (NS, pH=6.8)", "G\" (NS, pH=6.8)", "G' (NS, pH=6.8) + mucin", "G\" (NS, pH=6.8) + mucin", "G' (pH=6.8) + mucin", "G\" (pH=6.8) + mucin"], "range": ["M-2.75,0H-0.63M0.63,0H2.75M-0.63,-0.63H0.63V0.63H-0.63Z", "M-2.75,0H-0.63M0.63,0H2.75M-0.63,-0.63H0.63V0.63H-0.63Z", "M-2.75,0H-0.46M0.46,0H2.75M0,-0.8L0.87,0.7H-0.87Z", "M-2.75,0H-0.46M0.46,0H2.75M0,-0.8L0.87,0.7H-0.87Z", "M-2.75,0H-0.87M0.87,0H2.75M-0.87,0L0,-0.9L0.87,0L0,0.9Z", "M-2.75,0H-0.87M0.87,0H2.75M-0.87,0L0,-0.9L0.87,0L0,0.9Z"]},
              "legend": {"orient": "none", "legendX": 143, "legendY": -56, "title": " ", "titleFontSize": 2, "titlePadding": 14, "padding": 8, "rowPadding": 16, "symbolSize": 3600, "symbolStrokeWidth": 4, "symbolOffset": 86, "labelOffset": 64, "labelFontSize": 72, "labelLimit": 3000, "fillColor": "white", "zindex": 1}}
          }
        },
        {
          "transform": [{"filter": "false"}],
          "mark": {"type": "point", "size": 3600, "strokeWidth": 4, "opacity": 1},
          "encoding": {
            "x": {"field": "freq", "type": "quantitative", "scale": {"type": "log", "domain": [0.01, 100], "nice": false, "range": [123, 2402]}},
            "y": {"field": "value", "type": "quantitative", "scale": {"type": "log", "domain": [0.01, 1000000000], "nice": false}, "axis": null},
            "stroke": {"field": "series", "type": "nominal",
              "scale": {"domain": ["G' (NS, pH=6.8)", "G\" (NS, pH=6.8)", "G' (NS, pH=6.8) + mucin", "G\" (NS, pH=6.8) + mucin", "G' (pH=6.8) + mucin", "G\" (pH=6.8) + mucin"], "range": ["black", "black", "black", "black", "black", "black"]},
              "legend": {"orient": "none", "legendX": 165, "legendY": -34, "title": " ", "titleFontSize": 2, "titlePadding": 14, "padding": 8, "rowPadding": 16, "symbolSize": 3600, "symbolStrokeWidth": 4, "symbolOffset": 86, "labelOffset": 851, "labelExpr": "' '", "labelFontSize": 72, "labelLimit": 3000, "fillColor": "black", "zindex": 0}},
            "fill": {"field": "series", "type": "nominal",
              "scale": {"domain": ["G' (NS, pH=6.8)", "G\" (NS, pH=6.8)", "G' (NS, pH=6.8) + mucin", "G\" (NS, pH=6.8) + mucin", "G' (pH=6.8) + mucin", "G\" (pH=6.8) + mucin"], "range": ["black", "black", "black", "black", "black", "black"]},
              "legend": {"orient": "none", "legendX": 165, "legendY": -34, "title": " ", "titleFontSize": 2, "titlePadding": 14, "padding": 8, "rowPadding": 16, "symbolSize": 3600, "symbolStrokeWidth": 4, "symbolOffset": 86, "labelOffset": 851, "labelExpr": "' '", "labelFontSize": 72, "labelLimit": 3000, "fillColor": "black", "zindex": 0}},
            "shape": {"field": "series", "type": "nominal",
              "scale": {"domain": ["G' (NS, pH=6.8)", "G\" (NS, pH=6.8)", "G' (NS, pH=6.8) + mucin", "G\" (NS, pH=6.8) + mucin", "G' (pH=6.8) + mucin", "G\" (pH=6.8) + mucin"], "range": ["M-2.75,0H-0.63M0.63,0H2.75M-0.63,-0.63H0.63V0.63H-0.63Z", "M-2.75,0H-0.63M0.63,0H2.75M-0.63,-0.63H0.63V0.63H-0.63Z", "M-2.75,0H-0.46M0.46,0H2.75M0,-0.8L0.87,0.7H-0.87Z", "M-2.75,0H-0.46M0.46,0H2.75M0,-0.8L0.87,0.7H-0.87Z", "M-2.75,0H-0.87M0.87,0H2.75M-0.87,0L0,-0.9L0.87,0L0,0.9Z", "M-2.75,0H-0.87M0.87,0H2.75M-0.87,0L0,-0.9L0.87,0L0,0.9Z"]},
              "legend": {"orient": "none", "legendX": 165, "legendY": -34, "title": " ", "titleFontSize": 2, "titlePadding": 14, "padding": 8, "rowPadding": 16, "symbolSize": 3600, "symbolStrokeWidth": 4, "symbolOffset": 86, "labelOffset": 851, "labelExpr": "' '", "labelFontSize": 72, "labelLimit": 3000, "fillColor": "black", "zindex": 0}}
          }
        }
      ],
      "resolve": {"scale": {"y": "independent", "stroke": "independent", "fill": "independent", "shape": "independent"}}
    }
  ],
  "config": {
    "view": {"stroke": null},
    "font": "Liberation Sans",
    "axis": {
      "grid": false,
      "domainColor": "black",
      "domainWidth": 7,
      "tickColor": "black",
      "tickWidth": 6,
      "labelColor": "black",
      "labelFont": "Liberation Sans",
      "labelFontWeight": "bold",
      "labelOverlap": false,
      "labelFlush": false,
      "labelLimit": 1000,
      "titleColor": "black",
      "titleFont": "Liberation Sans",
      "titleFontWeight": "bold",
      "minExtent": 0,
      "maxExtent": 3000
    },
    "legend": {
      "strokeColor": "black",
      "strokeWidth": 3,
      "labelColor": "black",
      "labelFont": "Liberation Sans",
      "cornerRadius": 0
    }
  }
}
